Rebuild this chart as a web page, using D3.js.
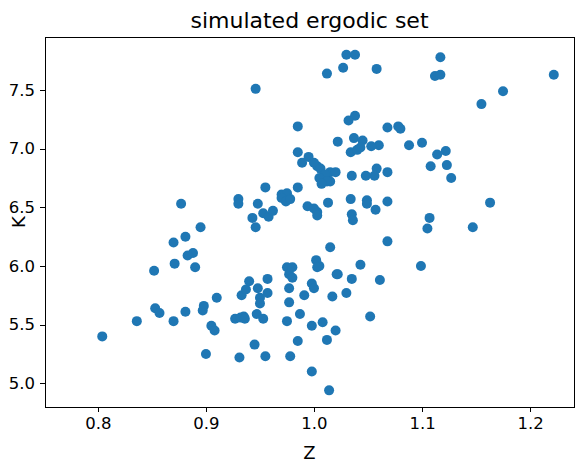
<!DOCTYPE html>
<head>
  <meta charset="utf-8">
  <style>
    body {margin: 0; font-family: "DejaVu Sans", sans-serif;}
    .axis line {stroke: #000; stroke-width: 1; shape-rendering: crispEdges;}
    .axis path {display: none;}
    .axis text {font-size: 16.5px; font-family: "DejaVu Sans";}
  </style>
</head>
<body>
  <svg width="584" height="472"></svg>
  <script src="https://d3js.org/d3.v7.min.js"></script>
  <script>
    // data
    var zVals = [1.030,1.038,1.117,1.027,1.012,1.058,1.112,1.117,1.222,0.946,1.175,1.155,1.038,1.032,0.985,1.078,1.080,1.068,1.022,1.037,1.045,1.100,1.088,1.060,1.053,1.034,1.040,1.043,1.122,1.114,0.985,0.995,1.003,1.000,0.989,1.006,1.015,1.020,1.010,1.015,1.005,1.012,1.007,1.035,1.048,1.058,1.056,1.068,1.108,1.123,1.127,0.955,0.985,0.970,0.975,0.970,0.974,0.978,0.948,0.930,0.930,0.877,0.994,1.000,1.003,1.003,1.013,1.034,1.049,1.049,1.068,1.057,1.035,1.036,1.107,1.105,1.147,1.163,0.943,0.946,0.953,0.958,0.962,0.895,0.881,0.870,0.888,0.883,0.871,0.890,0.852,1.015,1.068,1.043,1.099,1.061,1.002,1.005,1.022,1.035,
      0.804,0.836,0.853,0.857,0.870,0.881,0.897,0.898,0.905,0.908,0.910,0.900,0.927,0.932,0.935,0.936,0.931,0.933,0.937,0.940,0.945,0.947,0.950,0.950,0.948,0.953,0.955,0.957,0.957,0.975,0.977,0.980,0.977,0.980,0.977,0.975,0.978,0.985,0.987,0.991,0.998,1.000,0.998,0.998,1.003,1.008,1.012,1.014,1.020,1.017,1.021,1.030,1.052];
    var kVals = [7.80,7.80,7.78,7.69,7.64,7.68,7.62,7.63,7.63,7.51,7.49,7.38,7.28,7.24,7.19,7.19,7.17,7.18,7.06,7.09,7.07,7.05,7.03,7.03,7.02,6.97,6.99,7.01,6.98,6.95,6.97,6.93,6.85,6.88,6.88,6.83,6.80,6.80,6.78,6.72,6.75,6.72,6.70,6.77,6.77,6.83,6.77,6.80,6.85,6.86,6.75,6.67,6.67,6.61,6.62,6.58,6.55,6.57,6.53,6.57,6.53,6.53,6.51,6.49,6.46,6.43,6.54,6.57,6.56,6.53,6.55,6.48,6.44,6.39,6.41,6.32,6.33,6.54,6.41,6.33,6.45,6.42,6.47,6.33,6.25,6.20,6.11,6.09,6.02,5.99,5.96,6.16,6.21,6.01,6.00,5.88,6.05,6.00,5.93,5.89,
      5.40,5.53,5.64,5.60,5.53,5.61,5.62,5.66,5.49,5.45,5.73,5.25,5.55,5.56,5.57,5.55,5.22,5.75,5.80,5.87,5.33,5.59,5.73,5.68,5.81,5.55,5.23,5.77,5.89,5.99,5.93,5.99,5.81,5.90,5.69,5.53,5.23,5.36,5.59,5.75,5.85,5.81,5.49,5.10,5.99,5.52,5.37,4.94,5.45,5.74,5.93,5.77,5.57];
    var xTicks = [0.8, 0.9, 1.0, 1.1, 1.2];
    var yTicks = [5.0, 5.5, 6.0, 6.5, 7.0, 7.5];

    var svg = d3.select("svg"),
        margin = {top: 37, right: 10, bottom: 65, left: 45},
        width = +svg.attr("width") - margin.left - margin.right,
        height = +svg.attr("height") - margin.top - margin.bottom;

    var graph = svg.append("g").attr("transform", "translate(" + margin.left + "," + margin.top + ")");

    var x = d3.scaleLinear().domain([0.751, 1.2407]).range([0, width]),
        y = d3.scaleLinear().domain([4.798, 7.952]).range([height, 0]);

    graph.append("g")
        .attr("class", "axis")
        .attr("transform", "translate(0," + height + ")")
        .call(d3.axisBottom(x).tickValues(xTicks).tickFormat(d3.format(".1f")).tickSize(5).tickPadding(5));

    graph.append("g")
        .attr("class", "axis")
        .call(d3.axisLeft(y).tickValues(yTicks).tickFormat(d3.format(".1f")).tickSize(5).tickPadding(5));

    graph.append("rect")
        .attr("width", width).attr("height", height)
        .attr("fill", "none").attr("stroke", "#000").attr("shape-rendering", "crispEdges");

    graph.selectAll(".dot")
        .data(zVals.map(function(z, i) { return {z: z, k: kVals[i]}; }))
      .enter().append("circle")
        .attr("cx", function(d) { return x(d.z); })
        .attr("cy", function(d) { return y(d.k); })
        .attr("r", 5)
        .attr("fill", "#1f77b4");

    svg.append("text")
        .attr("x", margin.left + width / 2).attr("y", 28)
        .attr("text-anchor", "middle").attr("font-size", 22)
        .text("simulated ergodic set");

    svg.append("text")
        .attr("x", margin.left + width / 2).attr("y", 459)
        .attr("text-anchor", "middle").attr("font-size", 18)
        .text("Z");

    svg.append("text")
        .attr("transform", "translate(25," + (margin.top + height / 2) + ") rotate(-90)")
        .attr("text-anchor", "middle").attr("font-size", 18)
        .text("K");
  </script>
</body>
